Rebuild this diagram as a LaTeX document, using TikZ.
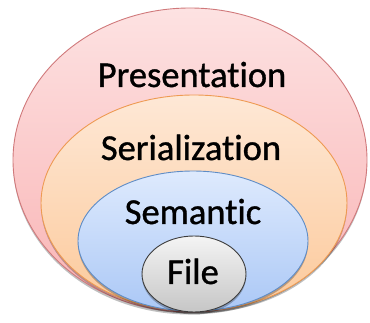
\documentclass[tikz,border=0pt]{standalone}
\usepackage{fontspec}
\setmainfont[FakeBold=1.0,Ligatures=NoCommon]{Carlito}
\usetikzlibrary{shapes.geometric,shadows}
\definecolor{redline}{HTML}{D0797B}
\definecolor{redtop}{HTML}{FDE2E2}
\definecolor{redbot}{HTML}{F9B3B4}
\definecolor{orline}{HTML}{EE9A52}
\definecolor{ortop}{HTML}{FEE8D6}
\definecolor{orbot}{HTML}{FCC99A}
\definecolor{blline}{HTML}{5E8CC6}
\definecolor{bltop}{HTML}{DEEAFD}
\definecolor{blbot}{HTML}{ABC8F6}
\definecolor{grline}{HTML}{3C3C3C}
\definecolor{grtop}{HTML}{F4F4F4}
\definecolor{grbot}{HTML}{C6C6C6}
\tikzset{
  layer/.style={ellipse, inner sep=0pt, line width=0.9pt,
    drop shadow={shadow xshift=0pt, shadow yshift=-2.5pt, opacity=0.25, fill=black}},
  lbl/.style={anchor=base, font=\fontsize{36.5}{40}\selectfont, text=black, inner sep=0pt}
}
\begin{document}
\begin{tikzpicture}[x=1pt,y=-1pt]
\useasboundingbox (0,0) rectangle (370,323);
\node[layer, draw=redline, top color=redtop, bottom color=redbot,
  minimum width=354pt, minimum height=304pt] (pres) at (190,160) {};
\node[layer, draw=orline, top color=ortop, bottom color=orbot,
  minimum width=306pt, minimum height=216pt] (ser) at (194,203) {};
\node[layer, draw=blline, top color=bltop, bottom color=blbot,
  minimum width=230pt, minimum height=140pt] (sem) at (193,241) {};
\node[layer, draw=grline, top color=grtop, bottom color=grbot,
  minimum width=104pt, minimum height=76pt] (file) at (194,274) {};
\node[lbl] (tpres) at (192,87) {Presentation};
\node[lbl] (tser) at (191,160) {Serialization};
\node[lbl] (tsem) at (193,224) {Semantic};
\node[lbl] (tfile) at (193,284) {File};
\end{tikzpicture}
\end{document}
